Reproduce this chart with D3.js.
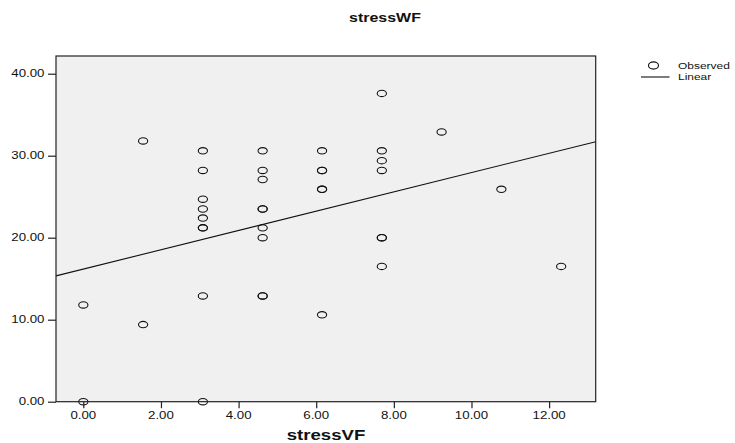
<!DOCTYPE html>
<html><head><meta charset="utf-8">
<script src="https://cdn.jsdelivr.net/npm/d3@7"></script>
<style>body{margin:0;background:#fff}svg{display:block}text{font-family:"Liberation Sans",Arial,sans-serif;fill:#111}</style>
</head><body>
<svg id="c" width="735" height="443"></svg>
<script>
// Observed data: stressVF (x) and stressWF (y)
const stressVF = [0,0, 1.54,1.54,
  3.08,3.08,3.08,3.08,3.08,3.08,3.08,3.08,3.08,
  4.62,4.62,4.62,4.62,4.62,4.62,4.62,4.62,4.62,
  6.15,6.15,6.15,6.15,6.15,6.15,
  7.69,7.69,7.69,7.69,7.69,7.69,7.69,
  9.23, 10.77, 12.31];
const stressWF = [11.8,0, 31.8,9.4,
  30.6,28.2,24.7,23.5,22.4,21.2,21.2,12.9,0,
  30.6,28.2,27.1,23.5,23.5,21.2,20.0,12.9,12.9,
  30.6,28.2,28.2,25.9,25.9,10.6,
  37.6,30.6,29.4,28.2,20.0,20.0,16.5,
  32.9, 25.9, 16.5];
const xTicks = [0,2,4,6,8,10,12];
const yTicks = [0,10,20,30,40];
const titleText = "stressWF";
const xLabel = "stressVF";
const legendLabels = ["Observed","Linear"];

const SX = 1.33; // horizontal stretch of the original picture
const svg = d3.select("#c");
const L=56, R=595.7, T=56, B=401.7;
const x = d3.scaleLinear().domain([-0.704, 13.2]).range([L, R]);
const y = d3.scaleLinear().domain([0, 42.16]).range([B, T]);
const fmt = d3.format(".2f");

svg.append("rect").attr("x",L).attr("y",T).attr("width",R-L).attr("height",B-T)
  .attr("fill","#f0f0f0").attr("stroke","none");

// linear fit computed from the observed data
const mx = d3.mean(stressVF), my = d3.mean(stressWF);
let sxy=0, sxx=0;
stressVF.forEach((v,i)=>{sxy+=(v-mx)*(stressWF[i]-my); sxx+=(v-mx)*(v-mx);});
const slope = sxy/sxx, icpt = my - slope*mx;
const [d0,d1] = x.domain();
svg.append("line").attr("x1",x(d0)).attr("y1",y(icpt+slope*d0))
  .attr("x2",x(d1)).attr("y2",y(icpt+slope*d1))
  .attr("stroke","#111").attr("stroke-width",1.1);

svg.append("g").selectAll("ellipse").data(stressVF.map((v,i)=>[v,stressWF[i]])).join("ellipse")
  .attr("cx",d=>x(d[0])).attr("cy",d=>y(d[1])).attr("rx",4.6).attr("ry",3.2)
  .attr("fill","none").attr("stroke","#111").attr("stroke-width",1.1);

svg.append("rect").attr("x",L).attr("y",T).attr("width",R-L).attr("height",B-T)
  .attr("fill","none").attr("stroke","#222").attr("stroke-width",1.2);

function stext(g, tx, ty, str, size, anchor, weight){
  return g.append("text").attr("transform",`translate(${tx},${ty}) scale(${SX},1)`)
    .attr("text-anchor",anchor).attr("font-size",size).attr("font-weight",weight||"normal").text(str);
}

// y axis
const ya = svg.append("g").attr("transform",`translate(${L},0)`)
  .call(d3.axisLeft(y).tickValues(yTicks).tickSize(8).tickFormat(""));
ya.select(".domain").remove();
ya.selectAll("line").attr("stroke","#222").attr("stroke-width",1.2);
yTicks.forEach(t=>stext(svg, 44.5, y(t)+3.5, fmt(t), 10, "end"));

// x axis
const xa = svg.append("g").attr("transform",`translate(0,${B})`)
  .call(d3.axisBottom(x).tickValues(xTicks).tickSize(6.5).tickFormat(""));
xa.select(".domain").remove();
xa.selectAll("line").attr("stroke","#222").attr("stroke-width",1.2);
xTicks.forEach(t=>stext(svg, x(t), 418.5, fmt(t), 10, "middle"));

stext(svg, 326, 440, xLabel, 14, "middle", "bold");
stext(svg, 385, 22, titleText, 12, "middle", "bold");

// legend
svg.append("ellipse").attr("cx",653.5).attr("cy",65.5).attr("rx",5).attr("ry",3.6)
  .attr("fill","none").attr("stroke","#111").attr("stroke-width",1.1);
stext(svg, 678, 69.3, legendLabels[0], 9, "start");
svg.append("line").attr("x1",641).attr("x2",669.5).attr("y1",77).attr("y2",77)
  .attr("stroke","#111").attr("stroke-width",1.1);
stext(svg, 678, 80, legendLabels[1], 9, "start");
</script>
</body></html>
